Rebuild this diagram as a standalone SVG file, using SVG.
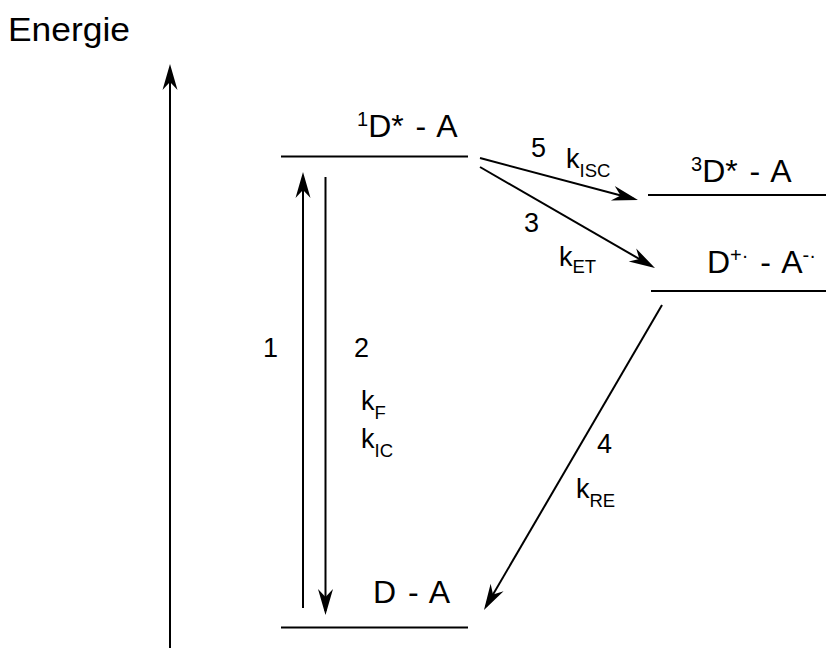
<svg xmlns="http://www.w3.org/2000/svg" width="826" height="649" viewBox="0 0 826 649">
<style>
text { font-family: "Liberation Sans", Arial, sans-serif; fill: #000; }
.big { font-size: 32px; word-spacing: 3px; }
.lbl { font-size: 27px; }
.sub { font-size: 18.5px; }
.sup { font-size: 20px; }
.lvl { stroke: #000; stroke-width: 2; fill: none; }
.arr { stroke: #000; stroke-width: 2; fill: none; marker-end: url(#ah); }
</style>
<defs>
<marker id="ah" markerUnits="userSpaceOnUse" markerWidth="30" markerHeight="20" refX="22" refY="8" orient="auto" overflow="visible">
<path d="M26,8 L0,0.5 L8,8 L0,15.5 Z" fill="#000"/>
</marker>
</defs>
<rect width="826" height="649" fill="#fff"/>
<g id="axis">
<line class="arr" x1="170" y1="648" x2="170" y2="68"/>
<text class="big" x="8" y="41" style="font-size:34px" textLength="122" lengthAdjust="spacingAndGlyphs">Energie</text>
</g>
<g id="level-1DA">
<line class="lvl" x1="281" y1="156.5" x2="468" y2="156.5"/>
<text class="big" x="357" y="137"><tspan class="sup" dy="-11">1</tspan><tspan dy="11">D* - A</tspan></text>
</g>
<g id="level-3DA">
<line class="lvl" x1="648" y1="195" x2="826" y2="195"/>
<text class="big" x="691" y="182"><tspan class="sup" dy="-11">3</tspan><tspan dy="11">D* - A</tspan></text>
</g>
<g id="level-DpAm">
<line class="lvl" x1="651" y1="291" x2="826" y2="291"/>
<text class="big" x="707" y="273">D<tspan class="sup" dy="-11">+·</tspan><tspan dy="11"> - A</tspan><tspan class="sup" dy="-11">-·</tspan></text>
</g>
<g id="level-DA">
<line class="lvl" x1="281" y1="627.5" x2="468" y2="627.5"/>
<text class="big" x="373" y="603">D - A</text>
</g>
<g id="connectors">
<line class="arr" x1="303" y1="608" x2="303" y2="176"/>
<line class="arr" x1="325.5" y1="177" x2="325.5" y2="611"/>
<line class="arr" x1="480" y1="158" x2="634.1" y2="199"/>
<line class="arr" x1="480" y1="167" x2="651.5" y2="266"/>
<line class="arr" x1="662" y1="305" x2="486" y2="606.5"/>
</g>
<g id="labels">
<text class="lbl" x="263" y="357">1</text>
<text class="lbl" x="354" y="357">2</text>
<text class="lbl" x="361" y="410">k<tspan class="sub" dy="9">F</tspan></text>
<text class="lbl" x="361" y="448">k<tspan class="sub" dy="9">IC</tspan></text>
<text class="lbl" x="531" y="157">5</text>
<text class="lbl" x="566" y="168">k<tspan class="sub" dy="9">ISC</tspan></text>
<text class="lbl" x="524" y="232">3</text>
<text class="lbl" x="559" y="266">k<tspan class="sub" dy="7">ET</tspan></text>
<text class="lbl" x="597" y="453">4</text>
<text class="lbl" x="576" y="498">k<tspan class="sub" dy="9">RE</tspan></text>
</g>
</svg>
